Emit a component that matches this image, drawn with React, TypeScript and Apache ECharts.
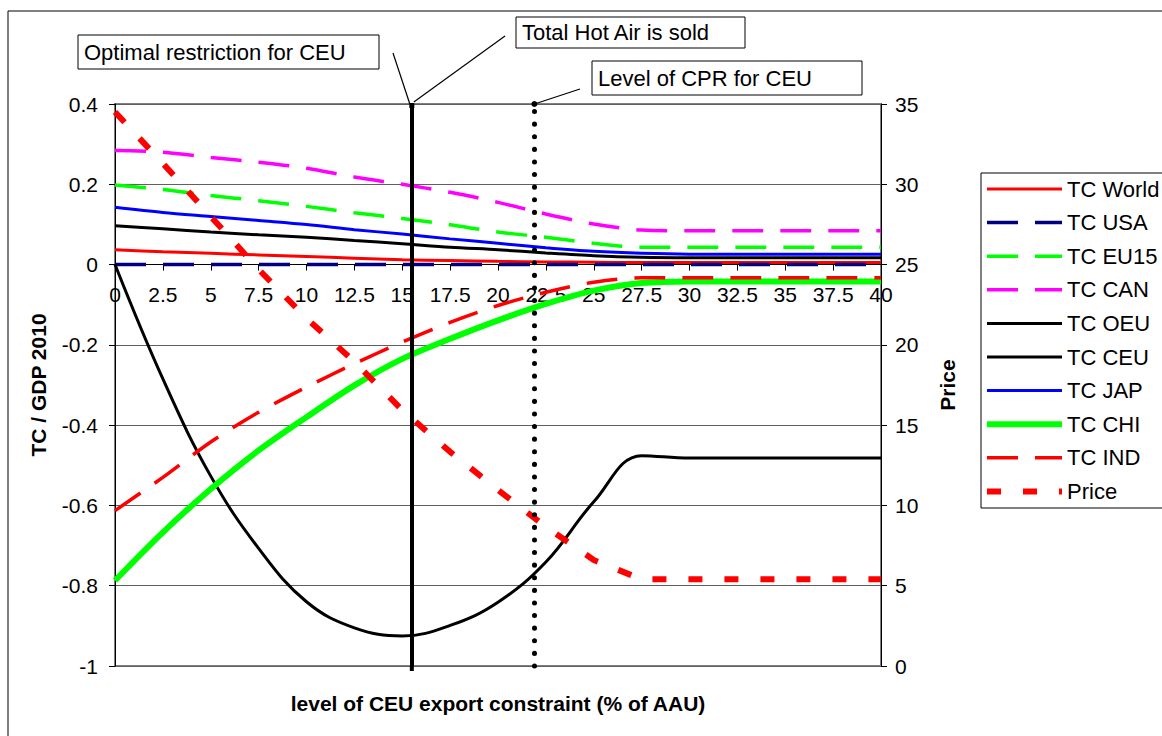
import React, { useEffect, useRef } from "react";
import * as echarts from "echarts";

const xs = [0, 2.5, 5, 7.5, 10, 12.5, 15, 17.5, 20, 22.5, 25, 27.5, 30, 32.5, 35, 37.5, 40];
const tcWorld = [0.037, 0.032, 0.028, 0.024, 0.02, 0.016, 0.012, 0.01, 0.008, 0.0066, 0.0058, 0.005, 0.005, 0.005, 0.005, 0.005, 0.005];
const tcUSA = [0, 0, 0, 0, 0, 0, 0, 0, 0, 0, 0, 0, 0, 0, 0, 0, 0];
const tcEU15 = [0.198, 0.187, 0.172, 0.159, 0.145, 0.129, 0.115, 0.099, 0.081, 0.068, 0.053, 0.043, 0.043, 0.043, 0.043, 0.043, 0.043];
const tcCAN = [0.284, 0.28, 0.267, 0.255, 0.24, 0.218, 0.2, 0.18, 0.155, 0.126, 0.101, 0.086, 0.084, 0.084, 0.084, 0.084, 0.084];
const tcOEU = [0.097, 0.089, 0.081, 0.074, 0.068, 0.06, 0.052, 0.043, 0.037, 0.029, 0.022, 0.018, 0.017, 0.017, 0.017, 0.017, 0.017];
const tcCEU = [0, -0.285, -0.527, -0.707, -0.84, -0.905, -0.925, -0.899, -0.841, -0.741, -0.591, -0.476, -0.482, -0.482, -0.482, -0.482, -0.482];
const tcJAP = [0.143, 0.13, 0.12, 0.11, 0.1, 0.087, 0.076, 0.064, 0.053, 0.042, 0.033, 0.028, 0.026, 0.026, 0.026, 0.026, 0.026];
const tcCHI = [-0.787, -0.667, -0.559, -0.463, -0.38, -0.301, -0.235, -0.185, -0.139, -0.098, -0.065, -0.046, -0.042, -0.042, -0.042, -0.042, -0.042];
const tcIND = [-0.613, -0.53, -0.442, -0.368, -0.305, -0.247, -0.193, -0.144, -0.102, -0.069, -0.044, -0.033, -0.033, -0.033, -0.033, -0.033, -0.033];
const price = [34.5, 31.3, 28.0, 24.7, 21.65, 18.95, 15.94, 13.34, 10.96, 8.67, 6.6, 5.4, 5.4, 5.4, 5.4, 5.4, 5.4];

const yMin = -1;
const yMax = 0.4;
const optimalX = 15.5;
const cprX = 21.9;

const FONT = "'Liberation Sans', Arial, sans-serif";
const DASH = [31, 17];
const PRICE_DASH = [14, 22];

const GRID_TOP = 104;
const GRID_BOTTOM_Y = 666;

type Def = { name: string; data: number[]; color: string; width: number; type: any; smooth: boolean | number; axis: number };
const defs: Def[] = [
  { name: "TC World", data: tcWorld, color: "#FF0000", width: 3, type: "solid", smooth: 0.3, axis: 0 },
  { name: "TC USA", data: tcUSA, color: "#000080", width: 3.5, type: DASH, smooth: false, axis: 0 },
  { name: "TC EU15", data: tcEU15, color: "#00FF00", width: 3.5, type: DASH, smooth: 0.3, axis: 0 },
  { name: "TC CAN", data: tcCAN, color: "#FF00FF", width: 3.5, type: DASH, smooth: 0.3, axis: 0 },
  { name: "TC OEU", data: tcOEU, color: "#000000", width: 3, type: "solid", smooth: 0.3, axis: 0 },
  { name: "TC CEU", data: tcCEU, color: "#000000", width: 3, type: "solid", smooth: 0.4, axis: 0 },
  { name: "TC JAP", data: tcJAP, color: "#0000FF", width: 3, type: "solid", smooth: 0.3, axis: 0 },
  { name: "TC CHI", data: tcCHI, color: "#00FF00", width: 6, type: "solid", smooth: 0.3, axis: 0 },
  { name: "TC IND", data: tcIND, color: "#FF0000", width: 3.5, type: DASH, smooth: 0.3, axis: 0 },
  { name: "Price", data: price, color: "#FF0000", width: 6, type: PRICE_DASH, smooth: false, axis: 1 },
];

const pts = (arr: number[]) => xs.map((x, i) => [x, arr[i]]);

export default function App() {
  const ref = useRef<HTMLDivElement>(null);
  useEffect(() => {
    if (!ref.current) return;
    const chart = echarts.init(ref.current, null, { renderer: "svg" });
    const series: any[] = defs.map((d) => ({
      name: d.name,
      type: "line",
      data: pts(d.data),
      yAxisIndex: d.axis,
      smooth: d.smooth,
      symbol: "none",
      showSymbol: false,
      lineStyle: { color: d.color, width: d.width, type: d.type, cap: "butt" },
      itemStyle: { color: d.color },
    }));
    series[0].markLine = {
      silent: true,
      symbol: ["none", "none"],
      label: { show: false },
      data: [
        { xAxis: optimalX, lineStyle: { color: "#000", width: 4, type: "solid" } },
        { xAxis: cprX, lineStyle: { color: "#000", width: 5, type: [0.1, 12.5], cap: "round" } },
      ],
    };
    const gridH = GRID_BOTTOM_Y - GRID_TOP;
    const zeroOffset = -(gridH * (0 - yMin)) / (yMax - yMin);
    const option: any = {
      animation: false,
      textStyle: { fontFamily: FONT },
      grid: {
        left: 115,
        right: 1162 - 881,
        top: GRID_TOP,
        bottom: 736 - GRID_BOTTOM_Y,
        show: true,
        borderColor: "#808080",
        borderWidth: 2,
        backgroundColor: "transparent",
      },
      xAxis: {
        type: "value",
        min: 0,
        max: 40,
        interval: 2.5,
        position: "bottom",
        offset: zeroOffset,
        axisLine: { onZero: false, lineStyle: { color: "#000", width: 1 } },
        axisTick: { show: true, length: 6, lineStyle: { color: "#000" } },
        axisLabel: { fontSize: 21, color: "#000", margin: 19, fontFamily: FONT },
        splitLine: { show: false },
      },
      yAxis: [
        {
          type: "value",
          min: yMin,
          max: yMax,
          interval: 0.2,
          name: "TC / GDP 2010",
          nameLocation: "middle",
          nameRotate: 90,
          nameGap: 66,
          nameTextStyle: { fontSize: 21, fontWeight: "bold", color: "#000", fontFamily: FONT },
          axisLine: { show: true, onZero: false, lineStyle: { color: "#000", width: 1 } },
          axisTick: { show: true, length: 6, lineStyle: { color: "#000" } },
          axisLabel: { fontSize: 21, color: "#000", margin: 17, fontFamily: FONT },
          splitLine: { show: true, lineStyle: { color: "#606060", width: 1 } },
        },
        {
          type: "value",
          min: 0,
          max: 35,
          interval: 5,
          position: "right",
          name: "Price",
          nameLocation: "middle",
          nameRotate: 90,
          nameGap: 56,
          nameTextStyle: { fontSize: 21, fontWeight: "bold", color: "#000", fontFamily: FONT },
          axisLine: { show: true, onZero: false, lineStyle: { color: "#000", width: 1 } },
          axisTick: { show: true, length: 6, lineStyle: { color: "#000" } },
          axisLabel: { fontSize: 21, color: "#000", margin: 14, fontFamily: FONT },
          splitLine: { show: false },
        },
      ],
      series,
    };
    chart.setOption(option);

    const pOpt = chart.convertToPixel({ gridIndex: 0 }, [optimalX, yMax]) as number[];
    const pCpr = chart.convertToPixel({ gridIndex: 0 }, [cprX, yMax]) as number[];
    const pOptBottom = chart.convertToPixel({ gridIndex: 0 }, [optimalX, yMin]) as number[];
    const boxText = (x: number, y: number, w: number, h: number, text: string) => ({
      type: "group",
      children: [
        { type: "rect", shape: { x, y, width: w, height: h }, style: { fill: "#fff", stroke: "#000", lineWidth: 1 } },
        {
          type: "text",
          x: x + 6,
          y: y + h / 2,
          style: { text, fontSize: 22, fontFamily: FONT, fill: "#000", verticalAlign: "middle", align: "left" },
        },
      ],
    });
    const legendItems: any[] = [];
    defs.forEach((d, i) => {
      const y = 189 + i * 33.6;
      legendItems.push({
        type: "line",
        silent: true,
        shape: { x1: 987, y1: y, x2: 1062, y2: y },
        style: { stroke: d.color, lineWidth: d.width, lineDash: d.type === "solid" ? null : d.type },
      });
      legendItems.push({
        type: "text",
        silent: true,
        x: 1067,
        y,
        style: { text: d.name, fontSize: 22, fontFamily: FONT, fill: "#000", verticalAlign: "middle", align: "left" },
      });
    });
    chart.setOption({
      graphic: [
        { type: "rect", silent: true, shape: { x: 8, y: 11, width: 1400, height: 1000 }, style: { fill: "none", stroke: "#000", lineWidth: 1 } },
        { type: "rect", silent: true, shape: { x: 981, y: 173, width: 400, height: 335 }, style: { fill: "#fff", stroke: "#000", lineWidth: 1 } },
        ...legendItems,
        { type: "line", silent: true, shape: { x1: pOptBottom[0], y1: pOptBottom[1], x2: pOptBottom[0], y2: pOptBottom[1] + 5 }, style: { stroke: "#000", lineWidth: 4 } },
        { type: "line", shape: { x1: 393, y1: 53, x2: pOpt[0] - 2, y2: pOpt[1] }, style: { stroke: "#000", lineWidth: 1.2 } },
        { type: "line", shape: { x1: 505, y1: 36, x2: pOpt[0] + 2, y2: pOpt[1] - 2 }, style: { stroke: "#000", lineWidth: 1.2 } },
        { type: "line", shape: { x1: 580, y1: 89, x2: pCpr[0], y2: pCpr[1] }, style: { stroke: "#000", lineWidth: 1.2 } },
        { type: "rect", shape: { x: pOpt[0] - 2.5, y: pOpt[1] - 1, width: 5, height: 5 }, style: { fill: "#000" } },
        { type: "circle", shape: { cx: pCpr[0], cy: pCpr[1], r: 3 }, style: { fill: "#000" } },
        boxText(78, 35, 301, 34, "Optimal restriction for CEU"),
        boxText(516, 17, 229, 31, "Total Hot Air is sold"),
        boxText(592, 61, 270, 34, "Level of CPR for CEU"),
        {
          type: "text",
          x: 498,
          y: 703,
          style: {
            text: "level of CEU export constraint (% of AAU)",
            fontSize: 21,
            fontWeight: "bold",
            fontFamily: FONT,
            fill: "#000",
            align: "center",
            verticalAlign: "middle",
          },
        },
      ],
    });
    return () => chart.dispose();
  }, []);
  return (
    <div
      ref={ref}
      style={{ position: "absolute", left: 0, top: 0, width: 1162, height: 736, background: "#fff" }}
    />
  );
}
